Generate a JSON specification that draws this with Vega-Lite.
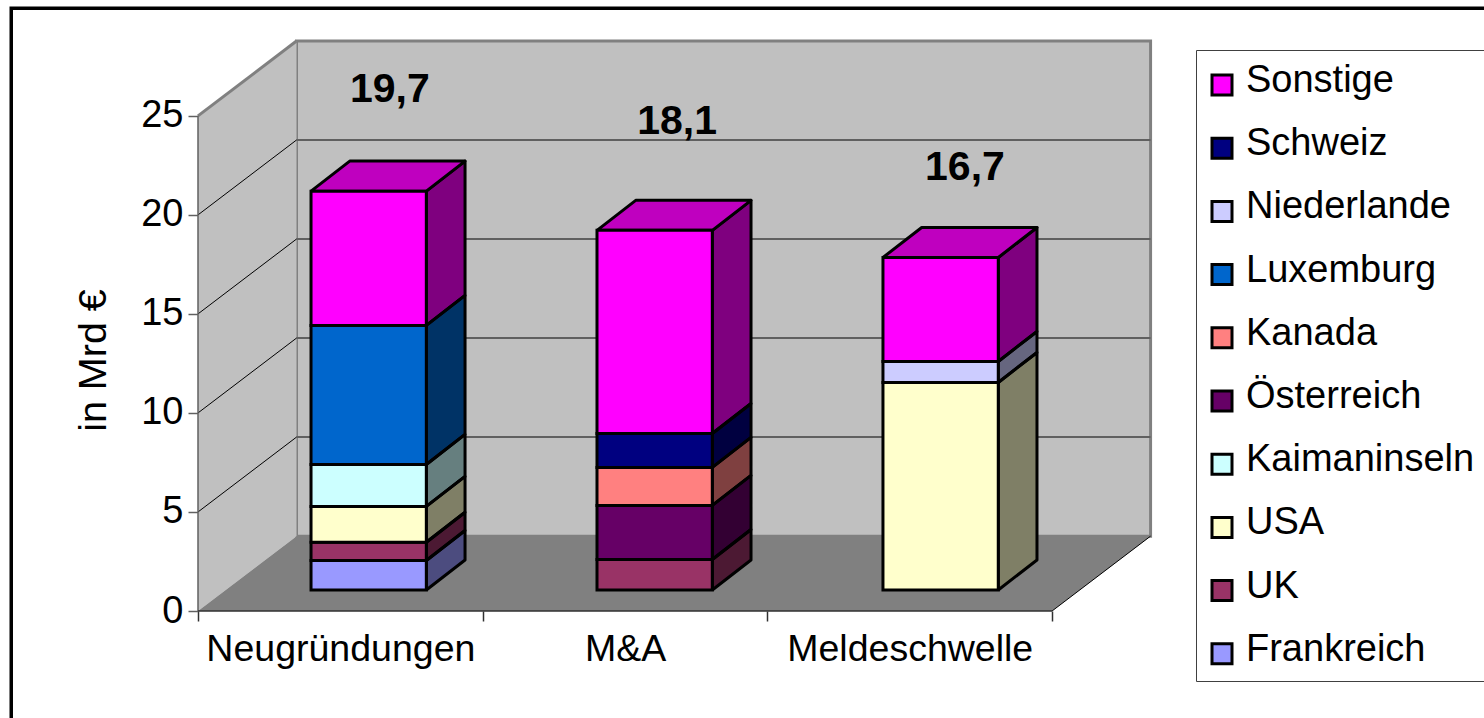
{
"$schema":"https://vega.github.io/schema/vega-lite/v6.json",
"autosize":{"type":"none"},
"width":954,"height":570,
"padding":{"left":198,"top":41,"right":332,"bottom":107},
"background":"white",
"config":{"font":"Liberation Sans","view":{"stroke":null},"axis":{"grid":false}},
"data":{"values":[{}]},
"datasets":{
"segments":[
{"category":"Neugründungen","series":"Frankreich","value":1.49},
{"category":"Neugründungen","series":"UK","value":0.92},
{"category":"Neugründungen","series":"USA","value":1.81},
{"category":"Neugründungen","series":"Kaimaninseln","value":2.12},
{"category":"Neugründungen","series":"Luxemburg","value":7.02},
{"category":"Neugründungen","series":"Sonstige","value":6.78},
{"category":"M&A","series":"UK","value":1.54},
{"category":"M&A","series":"Österreich","value":2.73},
{"category":"M&A","series":"Kanada","value":1.92},
{"category":"M&A","series":"Schweiz","value":1.71},
{"category":"M&A","series":"Sonstige","value":10.26},
{"category":"Meldeschwelle","series":"USA","value":10.48},
{"category":"Meldeschwelle","series":"Niederlande","value":1.06},
{"category":"Meldeschwelle","series":"Sonstige","value":5.25}
],
"totals":[
{"category":"Neugründungen","label":"19,7"},
{"category":"M&A","label":"18,1"},
{"category":"Meldeschwelle","label":"16,7"}
],
"grid":[{"v":5},{"v":10},{"v":15},{"v":20}]
},
"layer":[
{"mark":{"type":"rect","filled":false,"stroke":"black","strokeWidth":3.5},
 "encoding":{
 "x":{"datum":-0.656,"type":"quantitative","scale":{"domain":[0,3.351],"nice":false,"zero":false},
  "axis":{"orient":"bottom","values":[0,0.5,1,1.5,2,2.5,3],"title":null,"grid":false,"domain":false,"tickSize":10,"tickWidth":1.5,"tickColor":"#303030",
  "tickOpacity":{"condition":{"test":"datum.value % 1 === 0","value":1},"value":0},
  "labelExpr":"datum.value===0.5?'Neugründungen':datum.value===1.5?'M&A':datum.value===2.5?'Meldeschwelle':''",
  "labelFontSize":37.5,"labelColor":"black","labelPadding":9,"labelLimit":500,"labelOverlap":false,"labelFlush":false,"labelBound":false,"labelAngle":0}},
 "x2":{"datum":4.9},
 "y":{"datum":30.43,"type":"quantitative","scale":{"domain":[0,28.78],"nice":false,"zero":false},
  "axis":{"orient":"left","values":[0,5,10,15,20,25],"title":"in Mrd €","titleFontSize":39.5,"titleFontWeight":"normal","titleColor":"black","titleAngle":270,"titleAlign":"center","titleBaseline":"alphabetic","titleX":-93,"titleY":319,"grid":false,"domain":false,"tickSize":10,"tickWidth":1.5,"tickColor":"#606060","labelFontSize":38,"labelColor":"black","labelPadding":5,"labelOverlap":false,"labelFlush":false,"labelBound":false}},
 "y2":{"datum":-8}}},
{"mark":{"type":"rect","fill":"#c0c0c0","stroke":"#808080","strokeWidth":3},
 "encoding":{
 "x":{"datum":0.346,"type":"quantitative","scale":{"domain":[0,3.351],"nice":false,"zero":false}},
 "x2":{"datum":3.346},
 "y":{"datum":3.78,"type":"quantitative","scale":{"domain":[0,28.78],"nice":false,"zero":false}},
 "y2":{"datum":28.78}}},
{"data":{"values":[{"face":"side","fill":"#c0c0c0"},{"face":"floor","fill":"#808080"}]},
 "transform":[
 {"calculate":"datum.face==='side'?[0,0.346,0.346,0,0]:[0,3,3.346,0.346,0]","as":"px"},
 {"calculate":"datum.face==='side'?[0,3.78,28.78,25,0]:[0,0,3.78,3.78,0]","as":"py"},
 {"calculate":"[0,1,2,3,4]","as":"k"},
 {"flatten":["px","py","k"]}],
 "mark":{"type":"line","strokeWidth":0},
 "encoding":{
 "x":{"field":"px","type":"quantitative","scale":{"domain":[0,3.351],"nice":false,"zero":false}},
 "y":{"field":"py","type":"quantitative","scale":{"domain":[0,28.78],"nice":false,"zero":false}},
 "detail":{"field":"face"},
 "order":{"field":"k"},
 "fill":{"field":"fill","type":"nominal","scale":null}}},
{"data":{"name":"grid"},
 "transform":[{"calculate":"datum.v+3.78","as":"back"}],
 "layer":[
 {"mark":{"type":"rule","stroke":"#606060","strokeWidth":2},
  "encoding":{
  "x":{"datum":0.346,"type":"quantitative","scale":{"domain":[0,3.351],"nice":false,"zero":false}},
  "x2":{"datum":3.346},
  "y":{"field":"back","type":"quantitative","scale":{"domain":[0,28.78],"nice":false,"zero":false}}}},
 {"mark":{"type":"rule","stroke":"black","strokeWidth":1},
  "encoding":{
  "x":{"datum":0,"type":"quantitative","scale":{"domain":[0,3.351],"nice":false,"zero":false}},
  "x2":{"datum":0.346},
  "y":{"field":"v","type":"quantitative","scale":{"domain":[0,28.78],"nice":false,"zero":false}},
  "y2":{"field":"back"}}}
 ]},
{"mark":{"type":"rule","stroke":"#808080","strokeWidth":3},
 "encoding":{
 "x":{"datum":0,"type":"quantitative","scale":{"domain":[0,3.351],"nice":false,"zero":false}},
 "x2":{"datum":0.346},
 "y":{"datum":25,"type":"quantitative","scale":{"domain":[0,28.78],"nice":false,"zero":false}},
 "y2":{"datum":28.78}}},
{"mark":{"type":"rule","stroke":"#606060","strokeWidth":1.5},
 "encoding":{
 "x":{"datum":0,"type":"quantitative","scale":{"domain":[0,3.351],"nice":false,"zero":false}},
 "y":{"datum":0,"type":"quantitative","scale":{"domain":[0,28.78],"nice":false,"zero":false}},
 "y2":{"datum":25}}},
{"mark":{"type":"rule","stroke":"black","strokeWidth":1},
 "encoding":{
 "x":{"datum":3,"type":"quantitative","scale":{"domain":[0,3.351],"nice":false,"zero":false}},
 "x2":{"datum":3.346},
 "y":{"datum":0,"type":"quantitative","scale":{"domain":[0,28.78],"nice":false,"zero":false}},
 "y2":{"datum":3.78}}},
{"mark":{"type":"rule","stroke":"#303030","strokeWidth":1.5},
 "encoding":{
 "x":{"datum":0,"type":"quantitative","scale":{"domain":[0,3.351],"nice":false,"zero":false}},
 "x2":{"datum":3},
 "y":{"datum":0,"type":"quantitative","scale":{"domain":[0,28.78],"nice":false,"zero":false}}}},
{"data":{"name":"segments"},
 "transform":[
 {"calculate":"indexof(['Frankreich','UK','USA','Kaimaninseln','Österreich','Kanada','Luxemburg','Niederlande','Schweiz','Sonstige'],datum.series)","as":"rank"},
 {"stack":"value","groupby":["category"],"sort":[{"field":"rank","order":"ascending"}],"as":["y0","y1"]},
 {"calculate":"datum.y0+1.06","as":"b0"},
 {"calculate":"datum.y1+1.06","as":"b1"},
 {"calculate":"indexof(['Neugründungen','M&A','Meldeschwelle'],datum.category)*1.0045+0.397","as":"x0"},
 {"calculate":"datum.x0+0.405","as":"x1"},
 {"calculate":"datum.category+datum.series","as":"id"}
 ],
 "layer":[
 {"transform":[
  {"calculate":"[datum.x1,datum.x1+0.136,datum.x1+0.136,datum.x1,datum.x1]","as":"px"},
  {"calculate":"[datum.b0,datum.b0+1.515,datum.b1+1.515,datum.b1,datum.b0]","as":"py"},
  {"calculate":"[0,1,2,3,4]","as":"k"},
  {"flatten":["px","py","k"]}],
  "layer":[
  {"mark":{"type":"line","strokeWidth":0},
   "encoding":{
   "x":{"field":"px","type":"quantitative","scale":{"domain":[0,3.351],"nice":false,"zero":false}},
   "y":{"field":"py","type":"quantitative","scale":{"domain":[0,28.78],"nice":false,"zero":false}},
   "order":{"field":"k"},"detail":{"field":"id"},
   "fill":{"field":"series","type":"nominal","scale":{"domain":["Sonstige","Schweiz","Niederlande","Luxemburg","Kanada","Österreich","Kaimaninseln","USA","UK","Frankreich"],"range":["#ff00ff","#000080","#ccccff","#0066cc","#ff8080","#660066","#ccffff","#ffffcc","#993366","#9999ff"]},
   "legend":{"orient":"none","legendX":998,"legendY":9,"title":null,"symbolType":"square","symbolSize":400,"symbolStrokeColor":"black","symbolStrokeWidth":3,"symbolOpacity":1,"labelFontSize":38,"labelColor":"black","labelLimit":400,"labelOffset":5,"symbolOffset":-4,"rowPadding":23.2,"padding":11,"strokeColor":"#404040","fillColor":"white","values":["Sonstige","Schweiz","Niederlande","Luxemburg","Kanada","Österreich","Kaimaninseln","USA","UK","Frankreich"],
   "encoding":{"symbols":{"stroke":{"value":"black"},"strokeWidth":{"value":3},"y":{"value":24}},"labels":{"dy":{"value":1}}}}}}},
  {"mark":{"type":"line","fill":"black","fillOpacity":0.5,"stroke":"black","strokeWidth":3,"strokeJoin":"round"},
   "encoding":{
   "x":{"field":"px","type":"quantitative","scale":{"domain":[0,3.351],"nice":false,"zero":false}},
   "y":{"field":"py","type":"quantitative","scale":{"domain":[0,28.78],"nice":false,"zero":false}},
   "order":{"field":"k"},"detail":{"field":"id"}}}
  ]},
 {"transform":[
  {"filter":"datum.series==='Sonstige'"},
  {"calculate":"[datum.x0,datum.x1,datum.x1+0.136,datum.x0+0.136,datum.x0]","as":"px"},
  {"calculate":"[datum.b1,datum.b1,datum.b1+1.515,datum.b1+1.515,datum.b1]","as":"py"},
  {"calculate":"[0,1,2,3,4]","as":"k"},
  {"flatten":["px","py","k"]}],
  "layer":[
  {"mark":{"type":"line","strokeWidth":0},
   "encoding":{
   "x":{"field":"px","type":"quantitative","scale":{"domain":[0,3.351],"nice":false,"zero":false}},
   "y":{"field":"py","type":"quantitative","scale":{"domain":[0,28.78],"nice":false,"zero":false}},
   "order":{"field":"k"},"detail":{"field":"id"},
   "fill":{"field":"series","type":"nominal","scale":{"domain":["Sonstige","Schweiz","Niederlande","Luxemburg","Kanada","Österreich","Kaimaninseln","USA","UK","Frankreich"],"range":["#ff00ff","#000080","#ccccff","#0066cc","#ff8080","#660066","#ccffff","#ffffcc","#993366","#9999ff"]}}}},
  {"mark":{"type":"line","fill":"black","fillOpacity":0.25,"stroke":"black","strokeWidth":3,"strokeJoin":"round"},
   "encoding":{
   "x":{"field":"px","type":"quantitative","scale":{"domain":[0,3.351],"nice":false,"zero":false}},
   "y":{"field":"py","type":"quantitative","scale":{"domain":[0,28.78],"nice":false,"zero":false}},
   "order":{"field":"k"},"detail":{"field":"id"}}}
  ]},
 {"mark":{"type":"rect","stroke":"black","strokeWidth":3},
  "encoding":{
  "x":{"field":"x0","type":"quantitative","scale":{"domain":[0,3.351],"nice":false,"zero":false}},
  "x2":{"field":"x1"},
  "y":{"field":"b0","type":"quantitative","scale":{"domain":[0,28.78],"nice":false,"zero":false}},
  "y2":{"field":"b1"},
  "fill":{"field":"series","type":"nominal",
   "scale":{"domain":["Sonstige","Schweiz","Niederlande","Luxemburg","Kanada","Österreich","Kaimaninseln","USA","UK","Frankreich"],"range":["#ff00ff","#000080","#ccccff","#0066cc","#ff8080","#660066","#ccffff","#ffffcc","#993366","#9999ff"]}}}}
 ]},
{"data":{"name":"totals"},
 "transform":[
 {"calculate":"{'Neugründungen':0.674,'M&A':1.683,'Meldeschwelle':2.694}[datum.category]","as":"lx"},
 {"calculate":"{'Neugründungen':26.29,'M&A':24.67,'Meldeschwelle':22.35}[datum.category]","as":"ly"}],
 "mark":{"type":"text","fontSize":41,"fontWeight":"bold","fill":"black","align":"center","baseline":"middle"},
 "encoding":{
 "x":{"field":"lx","type":"quantitative","scale":{"domain":[0,3.351],"nice":false,"zero":false}},
 "y":{"field":"ly","type":"quantitative","scale":{"domain":[0,28.78],"nice":false,"zero":false}},
 "text":{"field":"label"}}}
]
}
